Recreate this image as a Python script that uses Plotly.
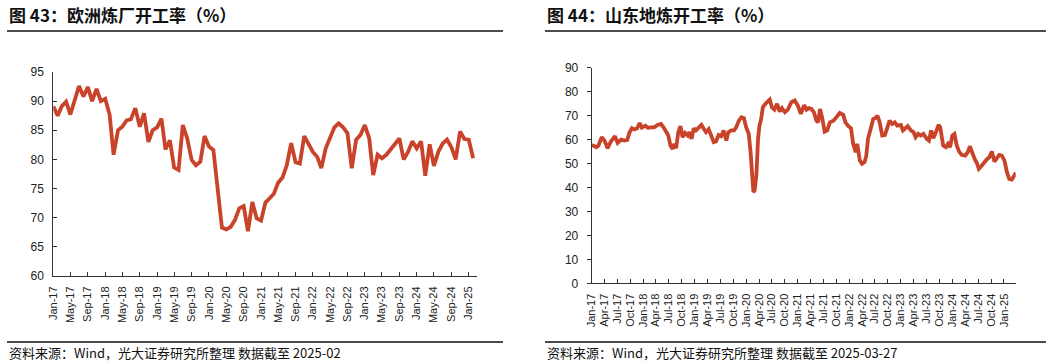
import pandas as pd
import plotly.graph_objects as go

# ---------------- data ----------------
# 图43 欧洲炼厂开工率 (monthly, Jan-17 .. Feb-25)
euro_start = "2017-01-01"
euro_vals = [
    89.1, 87.5, 89.1, 89.9, 87.7, 90.2, 92.6, 90.8, 92.4, 90.0, 92.1, 90.0,
    90.4, 87.7, 80.8, 85.0, 85.6, 86.7, 86.9, 88.8, 85.6, 87.9, 83.0, 85.0,
    85.5, 87.0, 81.7, 83.3, 78.6, 78.2, 85.9, 83.6, 79.9, 79.0, 79.6, 84.0,
    82.2, 81.6, 75.5, 68.3, 68.0, 68.4, 69.6, 71.6, 72.0, 67.7, 72.7, 69.9,
    69.5, 72.6, 73.3, 74.1, 76.0, 76.9, 79.0, 82.8, 79.5, 79.3, 84.0, 82.5,
    81.3, 80.4, 78.5, 81.9, 83.8, 85.5, 86.2, 85.5, 84.5, 78.5, 83.4, 84.2,
    85.9, 83.6, 77.3, 80.8, 80.2, 80.8, 81.7, 82.7, 83.6, 80.0, 81.3, 83.1,
    81.9, 83.1, 77.2, 82.6, 78.9, 81.3, 82.7, 83.4, 82.1, 80.0, 84.8, 83.5,
    83.4, 80.2,
]
euro_dates = pd.date_range(euro_start, periods=len(euro_vals), freq="MS")

# 图44 山东地炼开工率
sd_dates = [
    "2017-01-02", "2017-02-03", "2017-02-18", "2017-03-13", "2017-04-01", "2017-04-24",
    "2017-05-17", "2017-06-15", "2017-07-04", "2017-07-28", "2017-08-22", "2017-09-10",
    "2017-09-25", "2017-10-13", "2017-11-01", "2017-11-19", "2017-12-07", "2017-12-22",
    "2018-01-16", "2018-02-04", "2018-02-26", "2018-03-19", "2018-04-13", "2018-05-07",
    "2018-05-25", "2018-06-13", "2018-06-28", "2018-07-13", "2018-07-28", "2018-08-10",
    "2018-08-22", "2018-09-07", "2018-09-22", "2018-10-07", "2018-10-25", "2018-11-13",
    "2018-11-25", "2018-12-10", "2018-12-25", "2019-01-10", "2019-01-25", "2019-02-18",
    "2019-03-07", "2019-03-22", "2019-04-10", "2019-04-28", "2019-05-16", "2019-06-01",
    "2019-06-19", "2019-07-07", "2019-07-25", "2019-08-13", "2019-08-28", "2019-09-16",
    "2019-10-07", "2019-10-22", "2019-11-10", "2019-11-28", "2019-12-16", "2020-01-01",
    "2020-01-19", "2020-02-01", "2020-02-12", "2020-02-21", "2020-03-01", "2020-03-13",
    "2020-03-25", "2020-04-04", "2020-04-16", "2020-04-28", "2020-05-16", "2020-06-04",
    "2020-06-16", "2020-07-01", "2020-07-19", "2020-08-07", "2020-08-25", "2020-09-10",
    "2020-10-01", "2020-10-22", "2020-11-16", "2020-12-10", "2021-01-01", "2021-01-22",
    "2021-02-15", "2021-03-04", "2021-03-19", "2021-04-07", "2021-04-25", "2021-05-13",
    "2021-05-25", "2021-06-07", "2021-06-22", "2021-07-10", "2021-07-28", "2021-08-16",
    "2021-09-10", "2021-10-01", "2021-10-25", "2021-11-19", "2021-12-04", "2021-12-25",
    "2022-01-13", "2022-01-28", "2022-02-15", "2022-02-26", "2022-03-16", "2022-04-01",
    "2022-04-19", "2022-05-01", "2022-05-13", "2022-06-01", "2022-06-19", "2022-07-04",
    "2022-07-19", "2022-08-04", "2022-08-22", "2022-09-10", "2022-09-28", "2022-10-13",
    "2022-11-01", "2022-11-19", "2022-12-07", "2023-01-01", "2023-01-16", "2023-02-04",
    "2023-02-19", "2023-03-13", "2023-04-01", "2023-04-16", "2023-05-04", "2023-05-22",
    "2023-06-10", "2023-07-04", "2023-07-19", "2023-08-04", "2023-08-19", "2023-09-07",
    "2023-09-25", "2023-10-07", "2023-10-19", "2023-10-28", "2023-11-16", "2023-12-01",
    "2023-12-16", "2024-01-01", "2024-01-16", "2024-02-01", "2024-02-18", "2024-03-07",
    "2024-04-01", "2024-04-19", "2024-05-04", "2024-05-22", "2024-06-07", "2024-06-22",
    "2024-07-07", "2024-07-28", "2024-08-16", "2024-09-01", "2024-09-19", "2024-10-07",
    "2024-10-25", "2024-11-10", "2024-11-28", "2024-12-16", "2025-01-04", "2025-01-22",
    "2025-02-07", "2025-02-25", "2025-03-16", "2025-03-27",
]
sd_vals = [
    57.8, 56.8, 57.5, 61.0, 59.6, 56.4,
    59.2, 61.4, 58.6, 60.0, 59.6, 59.9,
    62.8, 64.7, 64.2, 64.7, 66.9, 65.0,
    65.8, 64.9, 65.1, 65.1, 66.1, 66.5,
    65.1, 62.8, 61.7, 57.5, 56.1, 58.2,
    56.4, 63.1, 65.6, 61.0, 62.8, 61.7,
    63.1, 60.3, 64.7, 63.8, 64.7, 66.1,
    64.4, 63.1, 64.4, 61.7, 58.9, 59.2,
    61.9, 61.4, 63.8, 59.6, 63.1, 63.8,
    63.8, 65.1, 67.9, 69.3, 68.9, 65.1,
    62.4, 54.7, 46.4, 38.1, 38.8, 45.0,
    60.3, 65.8, 68.6, 73.5, 74.9, 75.8,
    76.7, 73.5, 72.5, 74.9, 71.7, 73.1,
    71.4, 72.5, 75.6, 76.3, 74.2, 70.7,
    74.4, 72.5, 73.1, 72.8, 71.4, 67.9,
    67.2, 72.8, 69.3, 63.3, 63.8, 67.2,
    67.9, 69.3, 71.1, 70.3, 67.2, 65.6,
    64.7, 58.2, 54.7, 58.2, 51.3, 49.9,
    50.6, 53.3, 60.3, 64.4, 68.6, 68.9,
    70.0, 67.2, 61.7, 61.9, 65.8, 67.9,
    66.5, 67.2, 65.8, 66.1, 63.8, 64.7,
    65.6, 63.8, 63.1, 61.0, 62.4, 61.7,
    62.4, 60.3, 59.6, 63.8, 60.6, 63.1,
    66.1, 65.1, 61.7, 57.5, 56.8, 58.2,
    56.8, 61.7, 62.4, 57.5, 55.0, 53.6,
    53.3, 54.7, 57.2, 54.0, 51.9, 50.3,
    47.8, 49.2, 50.8, 51.7, 52.6, 55.0,
    50.8, 52.2, 53.6, 53.3, 51.3, 46.4,
    43.6, 43.3, 45.0, 46.1,
]

title_left = "图 43：欧洲炼厂开工率（%）"
title_right = "图 44：山东地炼开工率（%）"
source_left = "资料来源：Wind，光大证券研究所整理 数据截至 2025-02"
source_right = "资料来源：Wind，光大证券研究所整理 数据截至 2025-03-27"
left_yticks = [60, 65, 70, 75, 80, 85, 90, 95]
right_yticks = [0, 10, 20, 30, 40, 50, 60, 70, 80, 90]

# ---------------- style ----------------
W, H = 1054, 364
LINE = "#C9432A"
AX = "#333333"
TICKFONT = dict(family="Arial, Liberation Sans, sans-serif", size=12, color="#222222")
XFONT = dict(family="Arial, Liberation Sans, sans-serif", size=11, color="#222222")
CJK = "Noto Sans CJK SC"


def px(x):
    return x / W


def py(y):
    return 1 - y / H


fig = go.Figure()
fig.add_trace(go.Scatter(x=euro_dates, y=euro_vals, mode="lines",
                         line=dict(color=LINE, width=3.8), xaxis="x", yaxis="y",
                         showlegend=False, hoverinfo="skip"))
fig.add_trace(go.Scatter(x=sd_dates, y=sd_vals, mode="lines",
                         line=dict(color=LINE, width=3.8), xaxis="x2", yaxis="y2",
                         showlegend=False, hoverinfo="skip"))

common_x = dict(type="date", tickformat="%b-%y", tickangle=-90, showgrid=False,
                zeroline=False, showline=True, linecolor=AX, linewidth=1,
                ticks="inside", ticklen=4, tickcolor=AX, tickfont=XFONT,
                automargin=False, ticklabelstandoff=5)
common_y = dict(showgrid=False, zeroline=False, showline=True, linecolor=AX,
                linewidth=1, ticklen=4, tickcolor=AX, tickfont=TICKFONT,
                automargin=False, ticklabelstandoff=6)

fig.update_layout(
    width=W, height=H,
    margin=dict(l=0, r=0, t=0, b=0),
    paper_bgcolor="white", plot_bgcolor="white",
    xaxis=dict(common_x, domain=[px(53.3), px(477)], anchor="y",
               range=["2017-01-01", "2025-02-28"], dtick="M4", tick0="2017-01-01"),
    yaxis=dict(common_y, domain=[py(276), py(72)], anchor="x", range=[60, 95],
               tickvals=left_yticks, ticks="inside"),
    xaxis2=dict(common_x, domain=[px(591.7), px(1015.7)], anchor="y2",
                range=["2017-01-01", "2025-03-25"], dtick="M3", tick0="2017-01-01"),
    yaxis2=dict(common_y, domain=[py(283.3), py(67.7)], anchor="x2", range=[0, 90],
                tickvals=right_yticks, ticks="outside"),
)

# titles
for x0, txt in [(7, title_left), (545, title_right)]:
    fig.add_annotation(xref="paper", yref="paper", x=px(x0), y=py(15), text=f"<b>{txt}</b>",
                       showarrow=False, xanchor="left", yanchor="middle",
                       font=dict(family=CJK, size=17, color="#111111"))
for x0, txt in [(7, source_left), (545, source_right)]:
    fig.add_annotation(xref="paper", yref="paper", x=px(x0), y=py(352), text=txt,
                       showarrow=False, xanchor="left", yanchor="middle",
                       font=dict(family=CJK, size=13, color="#111111"))

# rules
for x0, x1 in [(7, 503), (545, 1046)]:
    for yy in (31, 342):
        fig.add_shape(type="line", xref="paper", yref="paper",
                      x0=px(x0), x1=px(x1), y0=py(yy), y1=py(yy),
                      line=dict(color="#111111", width=1.3))

# remove the browser's default 8px body margin so the figure fills the window
fig.write_html("out.html",
               config={"displayModeBar": False},
               post_script="document.body.style.margin='0';document.body.style.overflow='hidden';")
